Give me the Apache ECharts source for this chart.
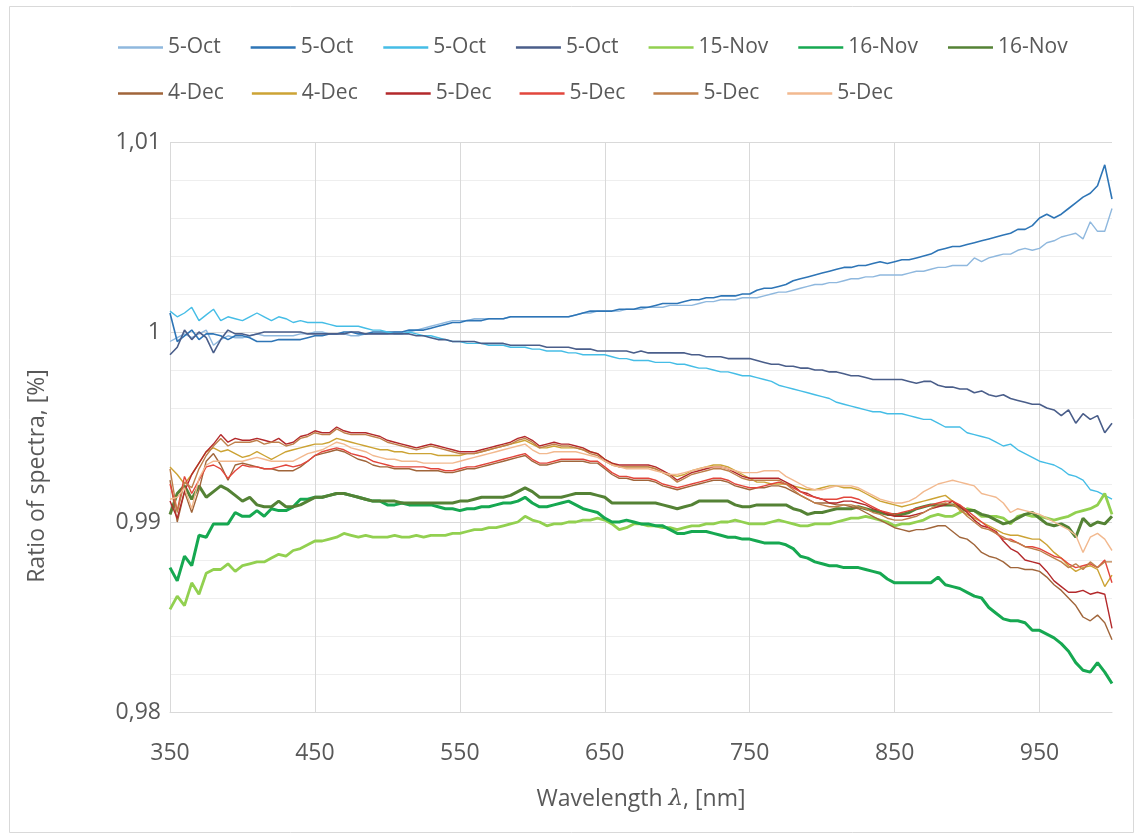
<!DOCTYPE html>
<html><head><meta charset="utf-8">
<script src="https://cdn.jsdelivr.net/npm/echarts@6/dist/echarts.min.js"></script>
<style>html,body{margin:0;padding:0;background:#fff}#c{width:1144px;height:839px}</style>
</head><body><div id="c"></div>
<script>
const wavelengths = [350,355,360,365,370,375,380,385,390,395,400,405,410,415,420,425,430,435,440,445,450,455,460,465,470,475,480,485,490,495,500,505,510,515,520,525,530,535,540,545,550,555,560,565,570,575,580,585,590,595,600,605,610,615,620,625,630,635,640,645,650,655,660,665,670,675,680,685,690,695,700,705,710,715,720,725,730,735,740,745,750,755,760,765,770,775,780,785,790,795,800,805,810,815,820,825,830,835,840,845,850,855,860,865,870,875,880,885,890,895,900,905,910,915,920,925,930,935,940,945,950,955,960,965,970,975,980,985,990,995,1000];
const xTicks = [350,450,550,650,750,850,950];
const seriesNames = ['5-Oct','5-Oct','5-Oct','5-Oct','15-Nov','16-Nov','16-Nov','4-Dec','4-Dec','5-Dec','5-Dec','5-Dec','5-Dec'];

const oct5a = [0.9995,0.9997,0.9999,0.9997,0.9999,1.0001,0.9993,0.9996,0.9998,0.9997,
0.9997,0.9998,0.9999,0.9998,0.9998,0.9998,0.9998,0.9998,0.9999,0.9999,
1.0000,1.0000,0.9999,0.9999,0.9999,0.9998,0.9998,0.9999,0.9999,0.9999,
0.9999,1.0000,1.0000,1.0000,1.0001,1.0002,1.0003,1.0004,1.0005,1.0006,
1.0006,1.0006,1.0007,1.0007,1.0007,1.0007,1.0007,1.0008,1.0008,1.0008,
1.0008,1.0008,1.0008,1.0008,1.0008,1.0008,1.0009,1.0010,1.0010,1.0011,
1.0011,1.0011,1.0011,1.0012,1.0012,1.0012,1.0013,1.0013,1.0013,1.0014,
1.0014,1.0014,1.0014,1.0015,1.0016,1.0016,1.0017,1.0017,1.0017,1.0018,
1.0018,1.0018,1.0019,1.0020,1.0021,1.0021,1.0022,1.0023,1.0024,1.0025,
1.0025,1.0026,1.0026,1.0027,1.0028,1.0028,1.0029,1.0029,1.0030,1.0030,
1.0030,1.0030,1.0031,1.0032,1.0032,1.0033,1.0034,1.0034,1.0035,1.0035,
1.0035,1.0039,1.0037,1.0039,1.0040,1.0041,1.0041,1.0043,1.0044,1.0043,
1.0044,1.0047,1.0048,1.0050,1.0051,1.0052,1.0049,1.0058,1.0053,1.0053,
1.0065];
const oct5b = [1.0010,0.9995,0.9998,1.0001,0.9996,0.9999,0.9999,0.9998,0.9996,0.9998,
0.9998,0.9997,0.9995,0.9995,0.9995,0.9996,0.9996,0.9996,0.9996,0.9997,
0.9998,0.9998,0.9999,0.9999,1.0000,1.0000,0.9999,0.9999,1.0000,1.0000,
1.0000,1.0000,1.0000,1.0001,1.0001,1.0001,1.0002,1.0003,1.0004,1.0005,
1.0005,1.0006,1.0006,1.0006,1.0007,1.0007,1.0007,1.0008,1.0008,1.0008,
1.0008,1.0008,1.0008,1.0008,1.0008,1.0008,1.0009,1.0010,1.0011,1.0011,
1.0011,1.0011,1.0012,1.0012,1.0012,1.0013,1.0013,1.0014,1.0015,1.0015,
1.0015,1.0016,1.0017,1.0017,1.0018,1.0018,1.0019,1.0019,1.0019,1.0020,
1.0020,1.0022,1.0023,1.0023,1.0024,1.0025,1.0027,1.0028,1.0029,1.0030,
1.0031,1.0032,1.0033,1.0034,1.0034,1.0035,1.0035,1.0036,1.0037,1.0036,
1.0037,1.0038,1.0038,1.0039,1.0040,1.0041,1.0043,1.0044,1.0045,1.0045,
1.0046,1.0047,1.0048,1.0049,1.0050,1.0051,1.0052,1.0054,1.0054,1.0056,
1.0060,1.0062,1.0060,1.0062,1.0065,1.0068,1.0071,1.0073,1.0077,1.0088,
1.0070];
const oct5c = [1.0011,1.0008,1.0010,1.0013,1.0006,1.0009,1.0012,1.0006,1.0008,1.0007,
1.0006,1.0008,1.0010,1.0008,1.0006,1.0008,1.0007,1.0005,1.0006,1.0005,
1.0005,1.0005,1.0004,1.0003,1.0003,1.0003,1.0003,1.0002,1.0001,1.0001,
1.0000,0.9999,0.9999,1.0000,0.9999,0.9998,0.9998,0.9997,0.9996,0.9995,
0.9995,0.9994,0.9994,0.9994,0.9993,0.9993,0.9993,0.9992,0.9992,0.9992,
0.9991,0.9991,0.9990,0.9990,0.9990,0.9989,0.9989,0.9988,0.9988,0.9988,
0.9988,0.9987,0.9986,0.9986,0.9985,0.9985,0.9985,0.9984,0.9984,0.9984,
0.9983,0.9983,0.9982,0.9981,0.9981,0.9980,0.9979,0.9979,0.9978,0.9977,
0.9977,0.9976,0.9975,0.9974,0.9972,0.9971,0.9970,0.9969,0.9968,0.9967,
0.9966,0.9965,0.9963,0.9962,0.9961,0.9960,0.9959,0.9958,0.9958,0.9957,
0.9957,0.9957,0.9956,0.9955,0.9954,0.9954,0.9952,0.9950,0.9950,0.9950,
0.9947,0.9946,0.9945,0.9944,0.9942,0.9940,0.9941,0.9938,0.9936,0.9934,
0.9932,0.9931,0.9930,0.9928,0.9925,0.9924,0.9922,0.9917,0.9916,0.9914,
0.9912];
const oct5d = [0.9988,0.9992,1.0001,0.9996,1.0000,0.9997,0.9989,0.9996,1.0001,0.9999,
0.9999,0.9998,0.9999,1.0000,1.0000,1.0000,1.0000,1.0000,1.0000,0.9999,
0.9999,0.9999,0.9999,0.9999,0.9999,1.0000,1.0000,0.9999,0.9999,0.9999,
0.9999,0.9999,0.9999,0.9999,0.9998,0.9998,0.9997,0.9996,0.9996,0.9995,
0.9995,0.9995,0.9995,0.9994,0.9994,0.9994,0.9994,0.9993,0.9993,0.9993,
0.9993,0.9993,0.9992,0.9992,0.9992,0.9992,0.9991,0.9991,0.9991,0.9990,
0.9990,0.9990,0.9990,0.9990,0.9989,0.9990,0.9989,0.9989,0.9989,0.9989,
0.9989,0.9989,0.9988,0.9988,0.9987,0.9987,0.9987,0.9986,0.9986,0.9986,
0.9986,0.9985,0.9984,0.9983,0.9983,0.9982,0.9982,0.9981,0.9981,0.9980,
0.9980,0.9979,0.9979,0.9978,0.9977,0.9977,0.9976,0.9975,0.9975,0.9975,
0.9975,0.9975,0.9974,0.9973,0.9974,0.9974,0.9972,0.9971,0.9971,0.9970,
0.9970,0.9968,0.9969,0.9967,0.9966,0.9967,0.9965,0.9964,0.9963,0.9962,
0.9962,0.9960,0.9959,0.9956,0.9959,0.9952,0.9957,0.9954,0.9956,0.9947,
0.9952];
const nov15 = [0.9854,0.9861,0.9856,0.9868,0.9862,0.9873,0.9875,0.9875,0.9878,0.9874,
0.9877,0.9878,0.9879,0.9879,0.9881,0.9883,0.9882,0.9885,0.9886,0.9888,
0.9890,0.9890,0.9891,0.9892,0.9894,0.9893,0.9892,0.9893,0.9892,0.9892,
0.9892,0.9893,0.9892,0.9892,0.9893,0.9892,0.9893,0.9893,0.9893,0.9894,
0.9894,0.9895,0.9896,0.9896,0.9897,0.9897,0.9898,0.9899,0.9900,0.9903,
0.9901,0.9900,0.9898,0.9899,0.9899,0.9900,0.9900,0.9901,0.9901,0.9902,
0.9901,0.9899,0.9896,0.9897,0.9899,0.9899,0.9898,0.9898,0.9897,0.9897,
0.9896,0.9897,0.9898,0.9898,0.9899,0.9899,0.9900,0.9900,0.9901,0.9900,
0.9899,0.9899,0.9899,0.9900,0.9901,0.9900,0.9899,0.9898,0.9898,0.9899,
0.9899,0.9899,0.9900,0.9901,0.9902,0.9902,0.9903,0.9902,0.9901,0.9900,
0.9898,0.9899,0.9899,0.9900,0.9901,0.9903,0.9904,0.9903,0.9903,0.9905,
0.9907,0.9906,0.9903,0.9903,0.9903,0.9902,0.9899,0.9903,0.9904,0.9903,
0.9903,0.9902,0.9901,0.9902,0.9903,0.9905,0.9906,0.9907,0.9909,0.9915,
0.9904];
const nov16a = [0.9876,0.9869,0.9882,0.9877,0.9893,0.9892,0.9899,0.9899,0.9899,0.9905,
0.9903,0.9903,0.9906,0.9903,0.9907,0.9906,0.9906,0.9908,0.9912,0.9912,
0.9913,0.9913,0.9914,0.9915,0.9915,0.9914,0.9913,0.9912,0.9911,0.9911,
0.9909,0.9909,0.9910,0.9909,0.9909,0.9909,0.9909,0.9908,0.9907,0.9907,
0.9906,0.9907,0.9907,0.9908,0.9908,0.9909,0.9910,0.9910,0.9911,0.9913,
0.9910,0.9908,0.9908,0.9909,0.9910,0.9911,0.9909,0.9907,0.9906,0.9905,
0.9902,0.9900,0.9900,0.9901,0.9900,0.9899,0.9899,0.9898,0.9898,0.9896,
0.9894,0.9894,0.9895,0.9895,0.9895,0.9894,0.9893,0.9892,0.9892,0.9891,
0.9891,0.9890,0.9889,0.9889,0.9889,0.9888,0.9886,0.9882,0.9881,0.9879,
0.9878,0.9877,0.9877,0.9876,0.9876,0.9876,0.9875,0.9874,0.9873,0.9870,
0.9868,0.9868,0.9868,0.9868,0.9868,0.9868,0.9871,0.9867,0.9866,0.9865,
0.9863,0.9861,0.9860,0.9855,0.9852,0.9849,0.9848,0.9848,0.9847,0.9843,
0.9843,0.9841,0.9839,0.9836,0.9832,0.9826,0.9822,0.9821,0.9826,0.9821,
0.9815];
const nov16b = [0.9904,0.9915,0.9919,0.9912,0.9919,0.9913,0.9916,0.9919,0.9917,0.9914,
0.9911,0.9913,0.9909,0.9908,0.9908,0.9911,0.9908,0.9908,0.9909,0.9911,
0.9913,0.9913,0.9914,0.9915,0.9915,0.9914,0.9913,0.9912,0.9911,0.9911,
0.9911,0.9911,0.9910,0.9910,0.9910,0.9910,0.9910,0.9910,0.9910,0.9910,
0.9911,0.9911,0.9912,0.9913,0.9913,0.9913,0.9913,0.9914,0.9916,0.9918,
0.9916,0.9913,0.9913,0.9913,0.9913,0.9914,0.9915,0.9915,0.9915,0.9914,
0.9913,0.9910,0.9910,0.9910,0.9910,0.9910,0.9910,0.9910,0.9909,0.9908,
0.9907,0.9908,0.9909,0.9911,0.9911,0.9911,0.9911,0.9911,0.9909,0.9908,
0.9908,0.9909,0.9909,0.9909,0.9909,0.9909,0.9907,0.9906,0.9904,0.9905,
0.9905,0.9906,0.9907,0.9907,0.9907,0.9908,0.9907,0.9906,0.9905,0.9904,
0.9904,0.9904,0.9905,0.9907,0.9908,0.9909,0.9909,0.9909,0.9909,0.9908,
0.9906,0.9906,0.9904,0.9903,0.9901,0.9899,0.9900,0.9902,0.9904,0.9905,
0.9902,0.9899,0.9898,0.9899,0.9897,0.9892,0.9902,0.9898,0.9900,0.9899,
0.9903];
const dec4a = [0.9922,0.9900,0.9916,0.9905,0.9917,0.9932,0.9936,0.9930,0.9922,0.9930,
0.9931,0.9930,0.9929,0.9928,0.9928,0.9927,0.9927,0.9927,0.9929,0.9932,
0.9935,0.9936,0.9937,0.9938,0.9937,0.9935,0.9933,0.9932,0.9930,0.9929,
0.9929,0.9928,0.9928,0.9928,0.9927,0.9927,0.9927,0.9927,0.9926,0.9926,
0.9927,0.9928,0.9928,0.9929,0.9930,0.9931,0.9932,0.9933,0.9934,0.9935,
0.9932,0.9930,0.9930,0.9931,0.9932,0.9932,0.9932,0.9932,0.9931,0.9931,
0.9928,0.9925,0.9923,0.9923,0.9922,0.9922,0.9922,0.9921,0.9919,0.9918,
0.9917,0.9918,0.9919,0.9920,0.9921,0.9922,0.9922,0.9921,0.9919,0.9918,
0.9917,0.9918,0.9918,0.9919,0.9919,0.9918,0.9916,0.9914,0.9912,0.9910,
0.9910,0.9910,0.9909,0.9909,0.9908,0.9907,0.9905,0.9903,0.9901,0.9899,
0.9897,0.9896,0.9895,0.9896,0.9896,0.9897,0.9898,0.9898,0.9895,0.9892,
0.9891,0.9888,0.9884,0.9882,0.9881,0.9879,0.9876,0.9876,0.9875,0.9875,
0.9874,0.9871,0.9867,0.9864,0.9860,0.9856,0.9850,0.9848,0.9851,0.9847,
0.9838];
const dec4b = [0.9929,0.9925,0.9920,0.9925,0.9931,0.9937,0.9939,0.9937,0.9938,0.9936,
0.9934,0.9935,0.9937,0.9935,0.9933,0.9935,0.9937,0.9938,0.9939,0.9940,
0.9941,0.9941,0.9942,0.9944,0.9943,0.9942,0.9941,0.9940,0.9939,0.9938,
0.9938,0.9937,0.9937,0.9936,0.9936,0.9936,0.9936,0.9935,0.9935,0.9935,
0.9935,0.9936,0.9936,0.9937,0.9938,0.9939,0.9940,0.9941,0.9942,0.9943,
0.9941,0.9939,0.9939,0.9940,0.9939,0.9939,0.9939,0.9938,0.9937,0.9936,
0.9933,0.9931,0.9929,0.9929,0.9929,0.9929,0.9929,0.9928,0.9926,0.9925,
0.9924,0.9925,0.9927,0.9928,0.9929,0.9930,0.9930,0.9929,0.9927,0.9925,
0.9923,0.9921,0.9921,0.9920,0.9920,0.9920,0.9919,0.9918,0.9917,0.9917,
0.9918,0.9919,0.9919,0.9918,0.9918,0.9917,0.9915,0.9913,0.9911,0.9910,
0.9909,0.9908,0.9909,0.9910,0.9911,0.9912,0.9913,0.9914,0.9911,0.9906,
0.9904,0.9902,0.9900,0.9898,0.9896,0.9894,0.9893,0.9893,0.9892,0.9891,
0.9891,0.9888,0.9884,0.9881,0.9877,0.9874,0.9876,0.9877,0.9875,0.9866,
0.9872];
const dec5a = [0.9911,0.9902,0.9916,0.9925,0.9931,0.9937,0.9941,0.9946,0.9942,0.9944,
0.9943,0.9943,0.9944,0.9943,0.9942,0.9944,0.9941,0.9942,0.9945,0.9946,
0.9948,0.9947,0.9947,0.9950,0.9948,0.9947,0.9947,0.9947,0.9946,0.9945,
0.9943,0.9942,0.9941,0.9940,0.9939,0.9940,0.9941,0.9940,0.9939,0.9938,
0.9937,0.9937,0.9937,0.9938,0.9939,0.9940,0.9941,0.9942,0.9944,0.9945,
0.9943,0.9940,0.9941,0.9942,0.9941,0.9941,0.9940,0.9939,0.9937,0.9936,
0.9933,0.9931,0.9930,0.9930,0.9930,0.9930,0.9930,0.9929,0.9927,0.9925,
0.9922,0.9924,0.9926,0.9927,0.9928,0.9929,0.9929,0.9928,0.9926,0.9924,
0.9923,0.9923,0.9923,0.9923,0.9923,0.9921,0.9919,0.9916,0.9915,0.9913,
0.9912,0.9910,0.9910,0.9911,0.9911,0.9910,0.9909,0.9907,0.9906,0.9904,
0.9903,0.9903,0.9903,0.9904,0.9905,0.9907,0.9908,0.9909,0.9911,0.9908,
0.9905,0.9901,0.9898,0.9897,0.9895,0.9890,0.9886,0.9884,0.9880,0.9879,
0.9878,0.9874,0.9869,0.9866,0.9863,0.9863,0.9864,0.9862,0.9863,0.9862,
0.9844];
const dec5b = [0.9920,0.9906,0.9924,0.9915,0.9922,0.9929,0.9930,0.9928,0.9923,0.9927,
0.9930,0.9929,0.9929,0.9928,0.9928,0.9929,0.9930,0.9929,0.9930,0.9932,
0.9935,0.9937,0.9938,0.9939,0.9938,0.9936,0.9935,0.9934,0.9932,0.9931,
0.9930,0.9929,0.9929,0.9929,0.9929,0.9929,0.9928,0.9928,0.9927,0.9927,
0.9928,0.9929,0.9929,0.9930,0.9931,0.9932,0.9933,0.9934,0.9935,0.9936,
0.9933,0.9931,0.9931,0.9932,0.9933,0.9933,0.9933,0.9933,0.9932,0.9932,
0.9929,0.9926,0.9924,0.9924,0.9923,0.9923,0.9923,0.9922,0.9920,0.9919,
0.9918,0.9919,0.9920,0.9921,0.9922,0.9923,0.9923,0.9922,0.9920,0.9919,
0.9918,0.9918,0.9919,0.9920,0.9921,0.9920,0.9918,0.9916,0.9914,0.9913,
0.9912,0.9912,0.9912,0.9913,0.9913,0.9912,0.9910,0.9908,0.9906,0.9905,
0.9904,0.9905,0.9906,0.9907,0.9908,0.9909,0.9910,0.9911,0.9911,0.9909,
0.9906,0.9903,0.9900,0.9897,0.9894,0.9891,0.9891,0.9889,0.9887,0.9887,
0.9886,0.9884,0.9882,0.9881,0.9878,0.9876,0.9877,0.9878,0.9876,0.9880,
0.9868];
const dec5c = [0.9928,0.9905,0.9921,0.9918,0.9928,0.9935,0.9940,0.9944,0.9940,0.9942,
0.9942,0.9942,0.9943,0.9941,0.9942,0.9942,0.9940,0.9941,0.9944,0.9945,
0.9947,0.9946,0.9946,0.9949,0.9947,0.9946,0.9946,0.9946,0.9945,0.9944,
0.9942,0.9941,0.9940,0.9939,0.9938,0.9939,0.9940,0.9939,0.9938,0.9937,
0.9936,0.9936,0.9936,0.9937,0.9938,0.9939,0.9940,0.9941,0.9943,0.9944,
0.9942,0.9939,0.9940,0.9941,0.9940,0.9940,0.9939,0.9938,0.9936,0.9935,
0.9932,0.9930,0.9929,0.9929,0.9929,0.9929,0.9929,0.9928,0.9926,0.9924,
0.9921,0.9923,0.9925,0.9926,0.9927,0.9928,0.9928,0.9927,0.9925,0.9923,
0.9922,0.9922,0.9922,0.9922,0.9922,0.9920,0.9917,0.9914,0.9912,0.9910,
0.9909,0.9908,0.9908,0.9909,0.9909,0.9908,0.9907,0.9905,0.9904,0.9902,
0.9901,0.9901,0.9902,0.9903,0.9905,0.9907,0.9909,0.9910,0.9909,0.9907,
0.9903,0.9900,0.9897,0.9896,0.9894,0.9892,0.9890,0.9889,0.9887,0.9886,
0.9885,0.9883,0.9881,0.9879,0.9876,0.9878,0.9875,0.9879,0.9876,0.9879,
0.9879];
const dec5d = [0.9912,0.9913,0.9918,0.9907,0.9923,0.9930,0.9932,0.9932,0.9932,0.9932,
0.9932,0.9933,0.9934,0.9933,0.9932,0.9932,0.9932,0.9932,0.9934,0.9936,
0.9937,0.9938,0.9940,0.9942,0.9941,0.9939,0.9938,0.9937,0.9935,0.9934,
0.9933,0.9933,0.9932,0.9932,0.9932,0.9931,0.9931,0.9931,0.9931,0.9931,
0.9932,0.9933,0.9934,0.9935,0.9936,0.9937,0.9938,0.9939,0.9940,0.9941,
0.9938,0.9936,0.9936,0.9937,0.9937,0.9937,0.9937,0.9936,0.9935,0.9934,
0.9932,0.9930,0.9929,0.9928,0.9928,0.9928,0.9928,0.9927,0.9926,0.9925,
0.9925,0.9926,0.9927,0.9928,0.9929,0.9929,0.9929,0.9928,0.9927,0.9926,
0.9926,0.9926,0.9927,0.9927,0.9927,0.9924,0.9922,0.9920,0.9918,0.9917,
0.9917,0.9918,0.9919,0.9919,0.9919,0.9918,0.9916,0.9914,0.9912,0.9911,
0.9910,0.9910,0.9911,0.9913,0.9916,0.9918,0.9920,0.9921,0.9922,0.9921,
0.9920,0.9919,0.9915,0.9914,0.9913,0.9910,0.9905,0.9907,0.9906,0.9905,
0.9904,0.9902,0.9900,0.9898,0.9896,0.9893,0.9884,0.9892,0.9894,0.9891,
0.9885];

const seriesData = [oct5a, oct5b, oct5c, oct5d, nov15, nov16a, nov16b, dec4a, dec4b, dec5a, dec5b, dec5c, dec5d];
const colors = ['#8FB8DE','#2E75B6','#45BDE6','#4A5E8A','#92D050','#16A851','#548235','#A0653A','#CCA334','#B3292B','#E2463C','#BF7F4A','#F2B98F'];
const widths = [1.4,1.6,1.4,1.6,2.8,3,3,1.4,1.4,1.4,1.4,1.4,1.4];

const FONT = 'Open Sans';
const TXT = '#595959';
const ids = seriesNames.map((n, i) => n + '#' + i);

const series = seriesData.map((arr, i) => ({
  name: ids[i],
  type: 'line',
  data: wavelengths.map((w, j) => [w, arr[j]]),
  showSymbol: false,
  symbol: 'none',
  lineStyle: { color: colors[i], width: widths[i] },
  itemStyle: { color: colors[i] },
  emphasis: { disabled: true }
}));

function makeLegend(names, top, gap) {
  return {
    left: 113, top: top, orient: 'horizontal', itemWidth: 45, itemHeight: 2.5, itemGap: gap,
    icon: 'rect',
    data: names,
    formatter: function (n) { return n.split('#')[0]; },
    textStyle: { fontSize: 21, color: TXT, fontFamily: FONT },
    selectedMode: false
  };
}

const chart = echarts.init(document.getElementById('c'), null, { renderer: 'canvas' });
chart.setOption({
  animation: false,
  backgroundColor: '#fff',
  grid: { left: 170, right: 32, top: 142, bottom: 127, containLabel: false },
  legend: [ makeLegend(ids.slice(0, 7), 32, 30), makeLegend(ids.slice(7), 78, 28) ],
  xAxis: {
    type: 'value', min: 350, max: 1000,
    name: 'Wavelength {l|λ}, [nm]', nameLocation: 'middle', nameGap: 76,
    nameTextStyle: { fontSize: 23, color: TXT, fontFamily: FONT,
      rich: { l: { fontSize: 23, fontStyle: 'italic', fontFamily: 'DejaVu Serif', color: TXT } } },
    axisLine: { show: true, lineStyle: { color: '#d9d9d9', width: 1 } },
    axisTick: { show: false, customValues: xTicks },
    axisLabel: { customValues: xTicks, fontSize: 23, color: TXT, fontFamily: FONT, margin: 30 },
    splitLine: { show: true, lineStyle: { color: '#d9d9d9', width: 1 } }
  },
  yAxis: {
    type: 'value', min: 0.98, max: 1.01, interval: 0.01,
    axisLine: { show: false },
    axisTick: { show: false },
    minorTick: { show: false, splitNumber: 5 },
    minorSplitLine: { show: true, lineStyle: { color: '#eeeeee', width: 1 } },
    splitLine: { show: true, lineStyle: { color: '#d9d9d9', width: 1 } },
    axisLabel: { fontSize: 23, color: TXT, fontFamily: FONT, margin: 9,
      formatter: function (v) { return String(Math.round(v * 100) / 100).replace('.', ','); } }
  },
  graphic: [
    { type: 'rect', silent: true, z: -1,
      shape: { x: 9.5, y: 6.5, width: 1124, height: 826 },
      style: { fill: 'none', stroke: '#d9d9d9', lineWidth: 1 } },
    { type: 'text', x: 37, y: 476, rotation: Math.PI / 2, silent: true,
      style: { text: 'Ratio of spectra, [%]', fontSize: 23, fontFamily: FONT, fill: TXT,
        align: 'center', verticalAlign: 'middle' } }
  ],
  series: series
});
</script>
</body></html>
